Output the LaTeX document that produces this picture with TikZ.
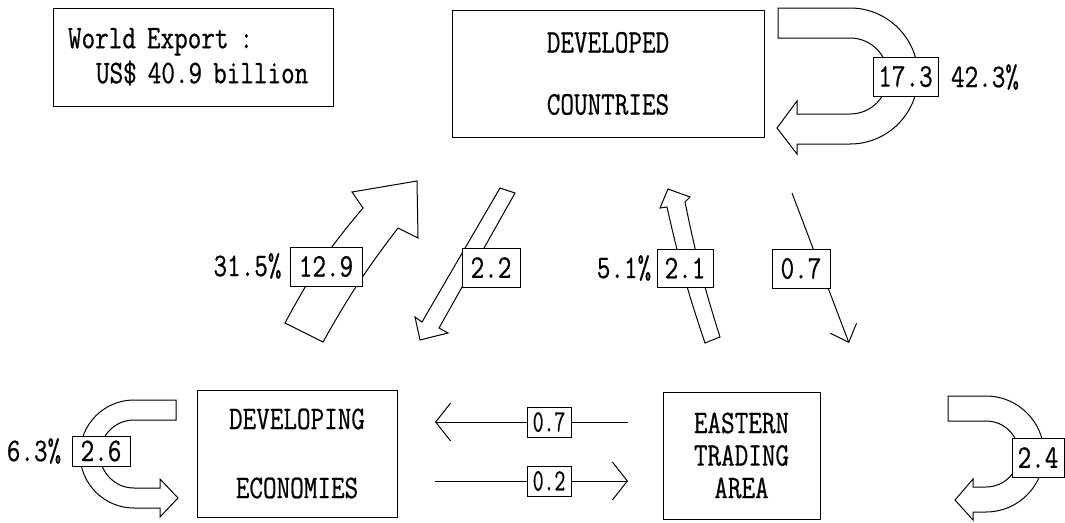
\documentclass[tikz,border=0pt]{standalone}
\usepackage{fontspec}
\newfontfamily\tf[FakeStretch=0.8,FakeBold=0.6]{Latin Modern Mono}
\newfontfamily\tfn[FakeStretch=0.68,FakeBold=0.6]{Latin Modern Mono}
\usetikzlibrary{arrows.meta}
\begin{document}
\begin{tikzpicture}[x=1pt,y=1pt,
  every node/.style={font=\tf\fontsize{33}{34}\selectfont, inner sep=0pt},
  bigbox/.style={draw, line width=1pt},
  lab/.style={draw, fill=white, line width=1pt},
  smalllab/.style={lab, font=\tfn\fontsize{31}{30}\selectfont},
  blk/.style={draw, line width=1pt, line join=miter, fill=white},
  thinarrow/.style={draw, line width=1pt, -{Straight Barb[length=15pt,width=38pt]}},
  diagarrow/.style={draw, line width=1pt, -{Straight Barb[length=15pt,width=28pt]}}]
\useasboundingbox (0,0) rectangle (1065,-522);

% boxes
\node[bigbox, minimum width=280pt, minimum height=98pt, text width=250pt, align=left,
      font=\tf\fontsize{33}{35}\selectfont] (world) at (193,-57)
  {World Export :\\\hspace*{28pt}US\$ 40.9 billion};
\node[bigbox, minimum width=312pt, minimum height=127pt, align=center,
      font=\tf\fontsize{33}{31}\selectfont] (dev) at (608,-73.5)
  {DEVELOPED\\[31pt]COUNTRIES};
\node[bigbox, minimum width=200pt, minimum height=127pt, align=center,
      font=\tf\fontsize{33}{34}\selectfont] (deco) at (297,-453.5)
  {\rule{0pt}{14pt}DEVELOPING\\[35pt]ECONOMIES};
\node[bigbox, minimum width=157pt, minimum height=127pt, align=center,
      font=\tf\fontsize{33}{32.5}\selectfont] (east) at (741.5,-455.5)
  {EASTERN\\TRADING\\AREA};

% U arrow 17.3 (developed -> developed)
\draw[blk] (778,-8) -- (850,-8) arc[start angle=90,end angle=-90,radius=68]
  -- (797,-144) -- (797,-154) -- (777,-128) -- (797,-101) -- (797,-114)
  -- (850,-114) arc[start angle=-90,end angle=90,radius=38] -- (778,-38) -- cycle;

% U arrow 2.6 (developing -> developing)
\draw[blk] (176,-400) -- (134,-400) arc[start angle=90,end angle=270,radius=54]
  -- (160,-508) -- (160,-517) -- (178,-498) -- (160,-479) -- (160,-488)
  -- (134,-488) arc[start angle=270,end angle=90,radius=34] -- (176,-420) -- cycle;

% U arrow 2.4 (eastern -> eastern)
\draw[blk] (948,-396) -- (986,-396) arc[start angle=90,end angle=-90,radius=58]
  -- (973,-512) -- (973,-520) -- (955,-500) -- (973,-479) -- (973,-487)
  -- (986,-487) arc[start angle=-90,end angle=90,radius=33] -- (948,-421) -- cycle;

% big arrow 12.9 (developing -> developed)
\draw[blk] (285,-323) to[bend left=6] (363,-208) -- (352,-192) -- (417,-181)
  -- (418,-238) -- (398,-228) to[bend right=4] (323,-342) -- cycle;

% arrow 2.2 (developed -> developing)
\draw[blk] (500,-188) -- (422,-322) -- (415,-317) -- (420,-340)
  -- (448,-333) -- (439,-328) -- (515,-193) -- cycle;

% arrow 2.1 (eastern -> developed)
\draw[blk] (705,-343) to[bend left=3] (667,-207) -- (660,-208) -- (668,-189)
  -- (690,-197) -- (685,-202) to[bend right=3] (720,-337) -- cycle;

% thin arrow 0.7 (developed -> eastern)
\coordinate (d07s) at (792,-193);
\coordinate (d07e) at (849,-343);
\draw[diagarrow] (d07s) -- (d07e);

% horizontal arrows
\coordinate (h1s) at (628,-422);
\coordinate (h1e) at (435,-422);
\coordinate (h2s) at (435,-481);
\coordinate (h2e) at (628,-481);
\draw[thinarrow] (h1s) -- (h1e);
\draw[thinarrow] (h2s) -- (h2e);

% labels
\node[lab, minimum width=65pt, minimum height=39pt] (l173) at (905.5,-76.5) {17.3};
\node (p423) at (985,-77) {42.3\%};
\node[lab, minimum width=72pt, minimum height=39pt] (l129) at (326,-266.5) {12.9};
\node (p315) at (247.5,-266) {31.5\%};
\node[lab, minimum width=58pt, minimum height=39pt] (l22) at (491,-267.5) {2.2};
\node[lab, minimum width=56pt, minimum height=38pt] (l21) at (685,-268) {2.1};
\node (p51) at (624,-268) {5.1\%};
\node[lab, minimum width=58pt, minimum height=39pt] (l07a) at (801,-268.5) {0.7};
\node[smalllab, minimum width=44pt, minimum height=30pt] (l07b) at (549,-422) {0.7};
\node[smalllab, minimum width=44pt, minimum height=30pt] (l02) at (549,-481) {0.2};
\node[lab, minimum width=58pt, minimum height=30pt] (l26) at (101,-451) {2.6};
\node (p63) at (34,-451) {6.3\%};
\node[lab, minimum width=52pt, minimum height=39pt] (l24) at (1038,-457.5) {2.4};
\end{tikzpicture}
\end{document}
